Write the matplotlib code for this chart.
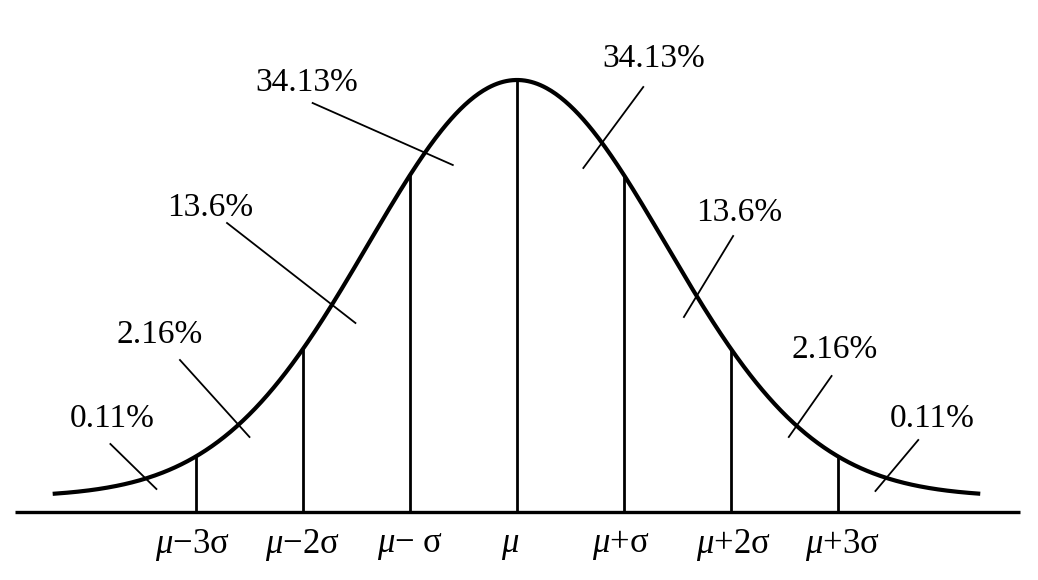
import numpy as np
import matplotlib
matplotlib.use("Agg")
import matplotlib.pyplot as plt

plt.rcParams['mathtext.fontset'] = 'custom'
plt.rcParams['mathtext.rm'] = 'Liberation Serif'
plt.rcParams['mathtext.it'] = 'Liberation Serif:italic'
plt.rcParams['font.family'] = ['Liberation Serif', 'DejaVu Serif']

# curve shape (x in units of sigma, y in drawing units above the axis)
curve_sd = 1.39
curve_peak = 417
curve_lift = 15
curve_span = (-4.32, 4.31)

# vertical lines and tick labels
ticks = [-3, -2, -1, 0, 1, 2, 3]
tick_labels = [r'$\mu\mathrm{-3\sigma}$', r'$\mu\mathrm{-2\sigma}$', r'$\mu\mathrm{-\ \sigma}$',
               r'$\mu$', r'$\mu\mathrm{+\sigma}$', r'$\mu\mathrm{+2\sigma}$', r'$\mu\mathrm{+3\sigma}$']
tick_label_x = [-3.03, -2.01, -1.0, -0.065, 0.97, 2.02, 3.04]

# percentage labels with their leader lines
pct_labels = ['0.11%', '2.16%', '13.6%', '34.13%', '34.13%', '13.6%', '2.16%', '0.11%']
pct_x = [-3.78, -3.34, -2.87, -1.97, 1.28, 2.08, 2.97, 3.88]
pct_y = [93, 177, 304, 429, 453, 299, 162, 93]
lead_x0 = [-3.80, -3.15, -2.71, -1.91, 1.18, 2.02, 2.94, 3.75]
lead_y0 = [68, 152, 289, 409, 425, 276, 136, 72]
lead_x1 = [-3.37, -2.50, -1.51, -0.60, 0.62, 1.56, 2.54, 3.35]
lead_y1 = [23, 75, 189, 347, 344, 195, 75, 21]


def curve(x):
    return curve_lift + curve_peak * np.exp(-0.5 * (np.asarray(x) / curve_sd) ** 2)


fig = plt.figure(figsize=(10.38, 5.80), dpi=100)
ax = fig.add_axes([0, 0, 1, 1])
ax.set_xlim(-517 / 107, 521 / 107)
ax.set_ylim(-68, 512)
ax.axis('off')

# axis line
ax.plot([-4.69, 4.70], [0, 0], color='black', lw=2.4, solid_capstyle='butt')

# bell curve
xs = np.linspace(curve_span[0], curve_span[1], 600)
ax.plot(xs, curve(xs), color='black', lw=3.0)

# verticals
for t in ticks:
    ax.plot([t, t], [0, curve(t)], color='black', lw=2.0, solid_capstyle='butt')

for lab, lx in zip(tick_labels, tick_label_x):
    ax.text(lx, -33, lab, ha='center', va='center', fontsize=25)

for lab, px, py, x0, y0, x1, y1 in zip(pct_labels, pct_x, pct_y, lead_x0, lead_y0, lead_x1, lead_y1):
    ax.plot([x0, x1], [y0, y1], color='black', lw=1.3)
    ax.text(px, py, lab, ha='center', va='center', fontsize=24)

fig.savefig('out.png', dpi=100)
